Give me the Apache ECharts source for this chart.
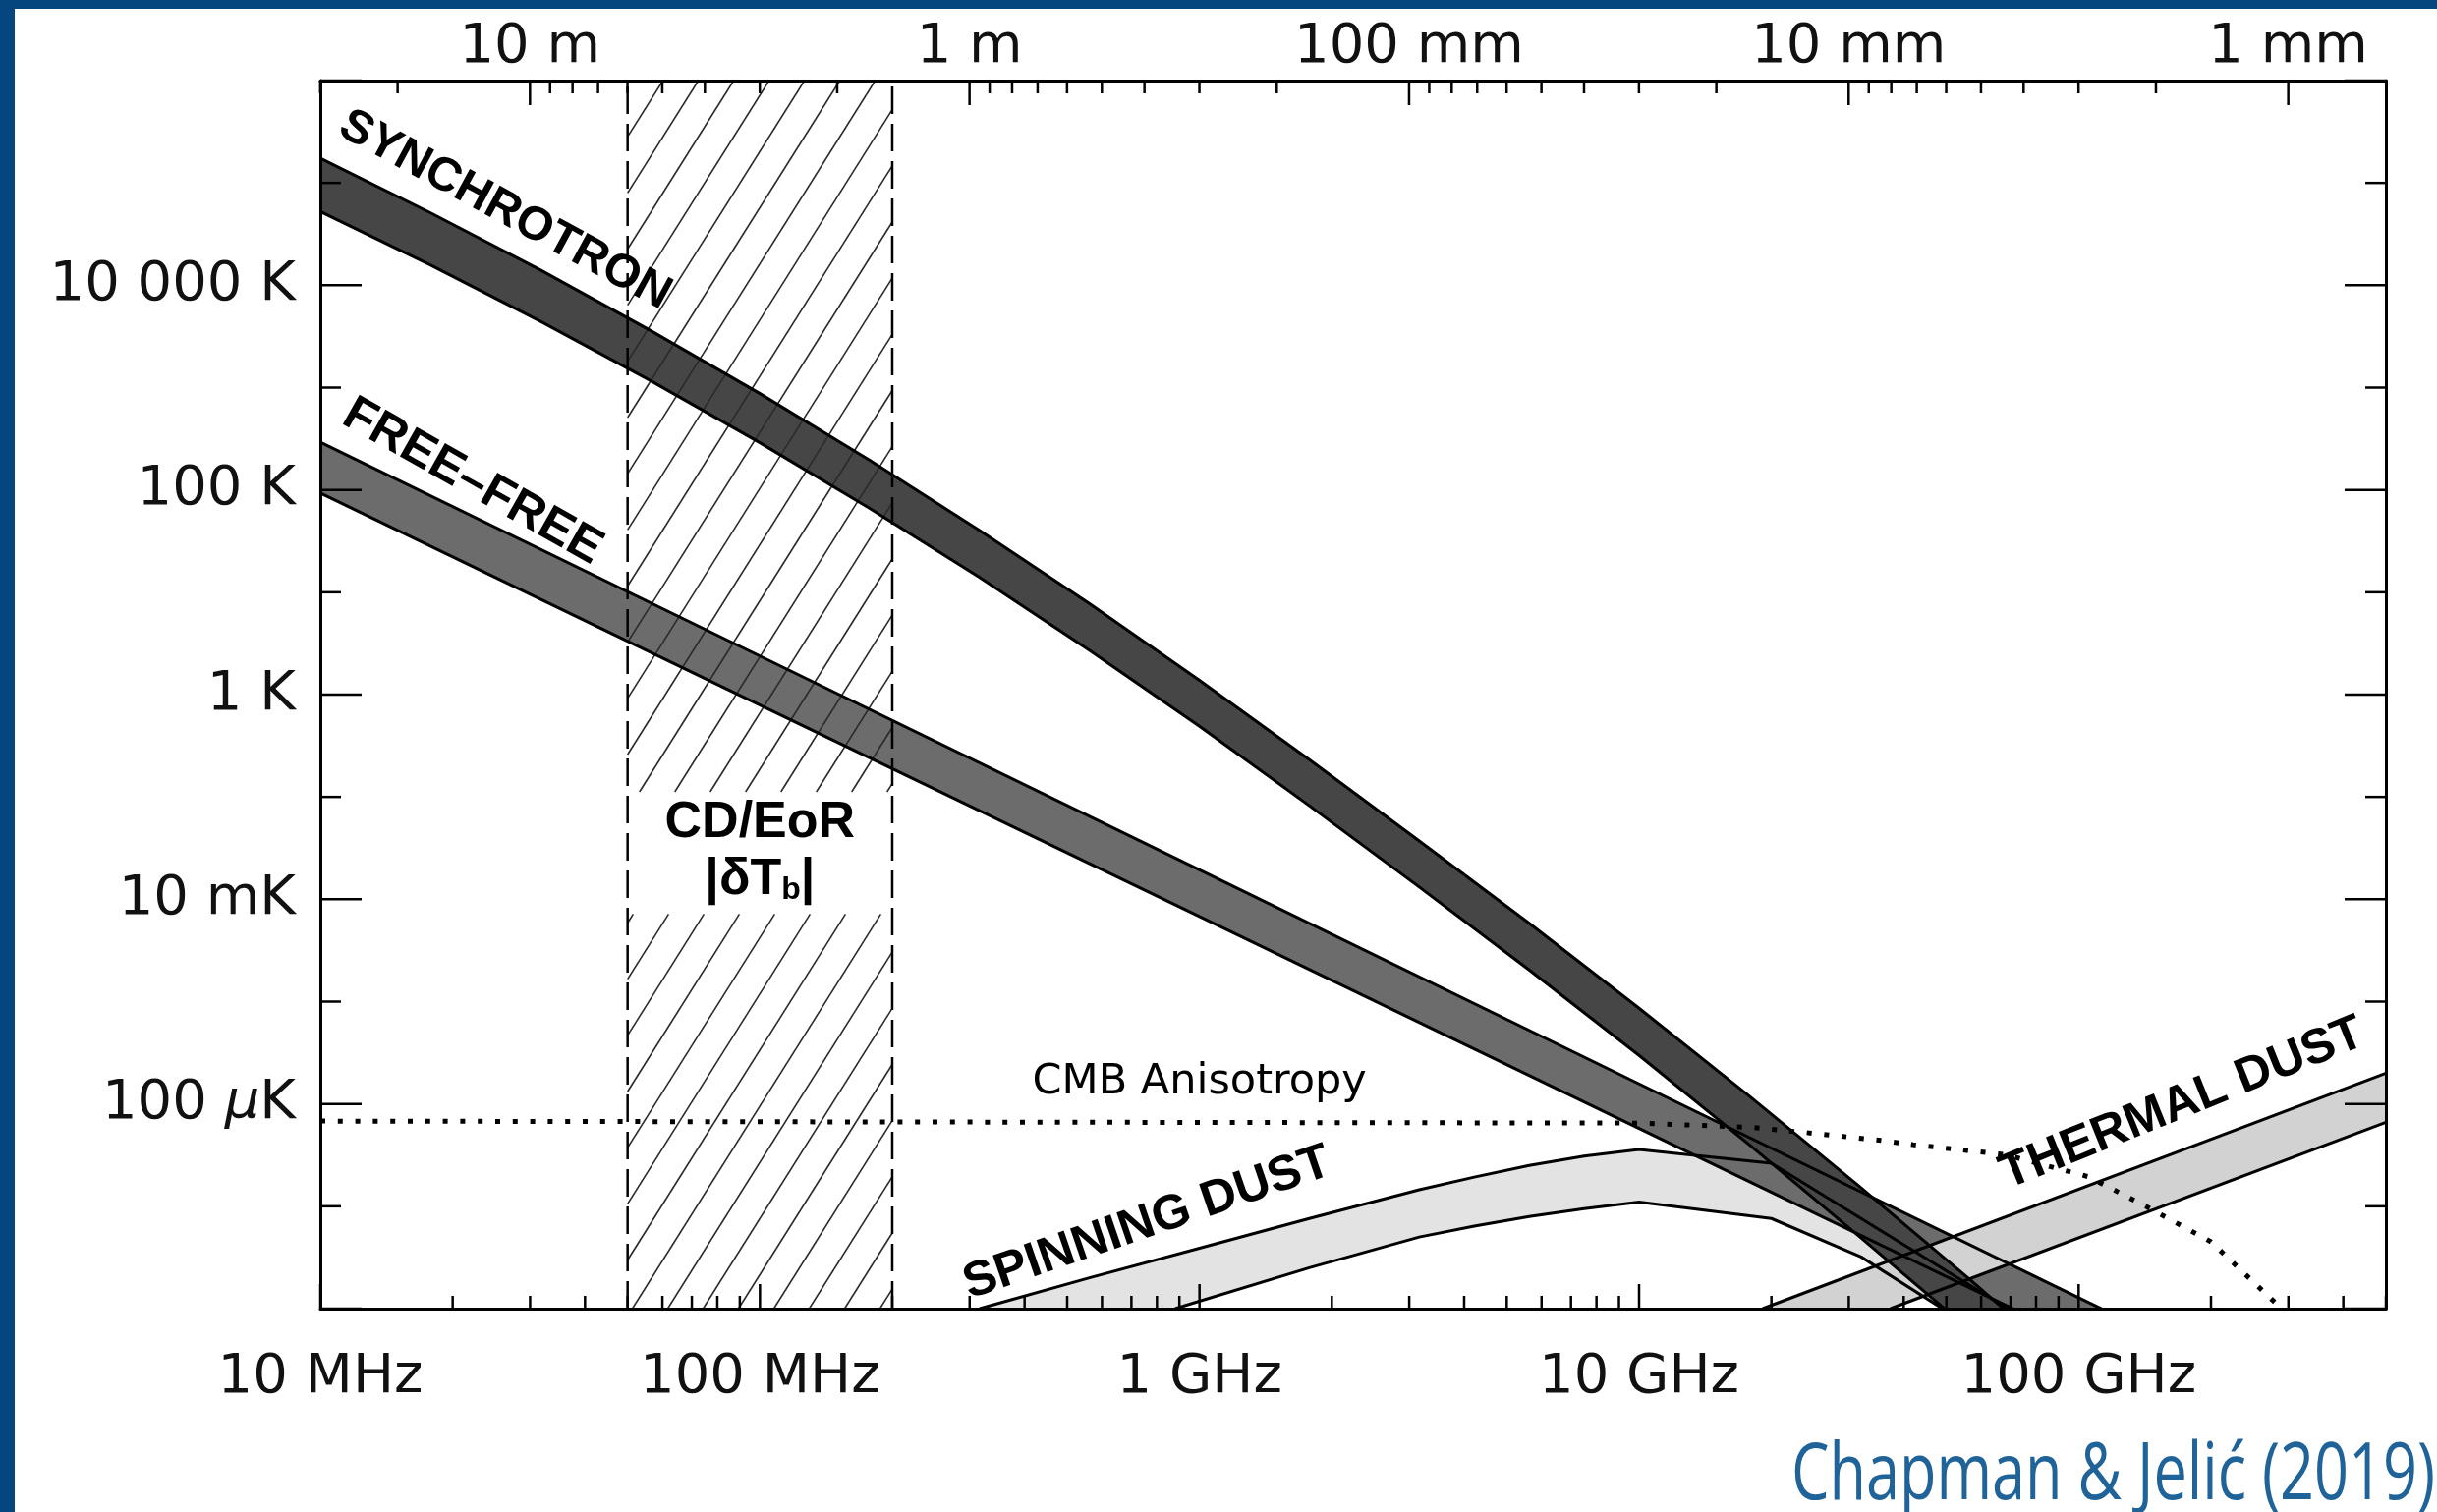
<!DOCTYPE html>
<html>
<head>
<meta charset="utf-8">
<script src="https://cdn.jsdelivr.net/npm/echarts@6/dist/echarts.min.js"></script>
<style>
  html, body { margin: 0; padding: 0; background: #ffffff; }
  #chart { width: 2480px; height: 1539px; }
</style>
</head>
<body>
<div id="chart"></div>
<script>
// Foreground brightness temperatures: frequency in GHz, temperature in K.
const synchFreqGHz = [0.01, 0.01778, 0.03162, 0.05623, 0.1, 0.1778, 0.3162, 0.5623, 1, 1.778, 3.162, 5.623, 10, 17.78, 31.62, 56.23, 100];
const synchUpperK  = [1.738e5, 5.117e4, 1.413e4, 3639, 873, 194.5, 40.18, 7.709, 1.380, 0.2312, 0.03715, 5.821e-3, 8.610e-4, 1.201e-4, 1.582e-5, 1.968e-6, 2.307e-7];
const synchLowerK  = [5.248e4, 1.581e4, 4467, 1178, 289.1, 65.92, 13.93, 2.704, 0.4898, 0.08204, 0.01318, 2.042e-3, 2.985e-4, 4.018e-5, 5.117e-6, 6.295e-7, 7.295e-8];

const ffUpperGHz = [0.01, 0.1, 1, 10, 100, 500];
const ffUpperK   = [293, 2.38, 0.0194, 1.57e-4, 1.28e-6, 4.5e-8];
const ffLowerGHz = [0.01, 0.1, 1, 10, 100];
const ffLowerK   = [93, 0.79, 6.8e-3, 5.75e-5, 4.9e-7];

const spinUpperGHz = [0.316, 0.562, 1, 1.778, 3.162, 4.217, 5.623, 7.499, 10, 12, 20, 35, 69];
const spinUpperK   = [1e-6, 2.0e-6, 3.89e-6, 7.59e-6, 1.45e-5, 1.93e-5, 2.51e-5, 3.09e-5, 3.59e-5, 3.3e-5, 2.63e-5, 6e-6, 1e-6];
const spinLowerGHz = [0.88, 1.778, 3.162, 4.217, 5.623, 7.499, 10, 20, 32, 49];
const spinLowerK   = [1e-6, 2.51e-6, 5.01e-6, 6.4e-6, 7.94e-6, 9.5e-6, 1.1e-5, 7.6e-6, 3.2e-6, 1e-6];

const dustUpperGHz = [19.1, 500];
const dustUpperK   = [1e-6, 2.0e-4];
const dustLowerGHz = [37.3, 500];
const dustLowerK   = [1e-6, 6.6e-5];

const cmbGHz = [0.01, 10, 18, 24, 35.5, 42, 68, 105, 141, 200, 275, 290];
const cmbK   = [6.8e-5, 6.5e-5, 5.9e-5, 5.25e-5, 4.4e-5, 4.0e-5, 3.2e-5, 1.95e-5, 1.02e-5, 4.5e-6, 1.23e-6, 1e-6];

// Cosmic Dawn / Epoch of Reionization window (GHz)
const cdEorGHz = [0.05, 0.2];

// Axis ranges and tick labels
const freqRangeHz = [1e7, 5e11];
const tempRangeK = [1e-6, 1e6];
const freqMajorHz = [1e7, 1e8, 1e9, 1e10, 1e11];
const freqLabels = ['10 MHz', '100 MHz', '1 GHz', '10 GHz', '100 GHz'];
const waveMajorM = [10, 1, 0.1, 0.01, 0.001];
const waveLabels = ['10 m', '1 m', '100 mm', '10 mm', '1 mm'];
const tempLabelK = [1e4, 1e2, 1, 1e-2, 1e-4];
const tempLabels = ['10 000 K', '100 K', '1 K', '10 mK', '100 {mu|µ}K'];

const LIGHT_SPEED = 299792458;
const lg = Math.log10;
const X_MIN = lg(freqRangeHz[0]), X_MAX = lg(freqRangeHz[1]);
const Y_MIN = lg(tempRangeK[0]), Y_MAX = lg(tempRangeK[1]);

const toPts = (ghz, k) => ghz.map((g, i) => [lg(g * 1e9), lg(k[i])]);

// minor ticks: 2..9 times each decade of frequency / wavelength
const freqMinorHz = [];
freqMajorHz.forEach(d => { for (let k = 2; k <= 9; k++) if (d * k <= freqRangeHz[1] * 1.0001) freqMinorHz.push(d * k); });
const waveMinorM = [];
[10, 1, 0.1, 0.01, 0.001].forEach(d => { for (let k = 2; k <= 9; k++) { const l = d * k; if (l <= 30.0001 && LIGHT_SPEED / l <= freqRangeHz[1] * 1.0001) waveMinorM.push(l); } });

const AXIS_FONT = '"DejaVu Sans", "Liberation Sans", sans-serif';
const BOLD_FONT = '"Liberation Sans", Arial, sans-serif';
const INK = '#111111';

// tick marks: [value, side (0 bottom, 1 top, 2 left, 3 right), major flag]
const tickData = [];
freqMajorHz.forEach(f => tickData.push([lg(f), 0, 1]));
freqMinorHz.forEach(f => tickData.push([lg(f), 0, 0]));
waveMajorM.forEach(l => tickData.push([lg(LIGHT_SPEED / l), 1, 1]));
waveMinorM.forEach(l => tickData.push([lg(LIGHT_SPEED / l), 1, 0]));
for (let e = -6; e <= 6; e++) {
  const major = (e % 2 === 0) ? 1 : 0;
  tickData.push([e, 2, major]);
  tickData.push([e, 3, major]);
}

const annotations = [
  { text: 'SYNCHROTRON', ghz: 0.0263, k: 5.4e4, angle: -28.5, size: 48 },
  { text: 'FREE–FREE', ghz: 0.0222, k: 120, angle: -29.5, size: 50 },
  { text: 'SPINNING DUST', ghz: 0.76, k: 6.8e-6, angle: 19, size: 50 },
  { text: 'THERMAL DUST', ghz: 172, k: 1.0e-4, angle: 22, size: 50 },
  { text: 'CD/EoR', ghz: 0.1, k: 0.0553, angle: 0, size: 52 },
  { text: '|δT{sub|b}|', ghz: 0.1, k: 0.0154, angle: 0, size: 52 },
  { text: 'CMB Anisotropy', ghz: 1.0, k: 1.62e-4, angle: 0, size: 43, normal: true }
];
// vertical gap left in the hatching behind the CD/EoR caption (K)
const captionGapK = [0.112, 0.00716];

function bandFill(upper, lower, color, z) {
  return {
    type: 'custom', coordinateSystem: 'cartesian2d', clip: true, silent: true, z,
    data: [upper[0]],
    renderItem(params, api) {
      const pts = upper.map(p => api.coord(p)).concat(lower.slice().reverse().map(p => api.coord(p)));
      return { type: 'polygon', shape: { points: pts }, style: { fill: color, stroke: null } };
    }
  };
}

function edge(points, z) {
  return {
    type: 'line', data: points, symbol: 'none', showSymbol: false, clip: true, silent: true, z,
    lineStyle: { color: '#000', width: 3, join: 'round' }
  };
}

const synchU = toPts(synchFreqGHz, synchUpperK), synchL = toPts(synchFreqGHz, synchLowerK);
const ffU = toPts(ffUpperGHz, ffUpperK), ffL = toPts(ffLowerGHz, ffLowerK);
const spinU = toPts(spinUpperGHz, spinUpperK), spinL = toPts(spinLowerGHz, spinLowerK);
const dustU = toPts(dustUpperGHz, dustUpperK), dustL = toPts(dustLowerGHz, dustLowerK);
const cmb = toPts(cmbGHz, cmbK);
const eorX = cdEorGHz.map(g => lg(g * 1e9));

const HATCH_ANGLE = 57.8 * Math.PI / 180;
const HATCH_STEP = 36;

const hatch = {
  type: 'custom', coordinateSystem: 'cartesian2d', clip: true, silent: true, z: 3,
  data: [[eorX[0], Y_MAX]],
  renderItem(params, api) {
    const tl = api.coord([eorX[0], Y_MAX]);
    const br = api.coord([eorX[1], Y_MIN]);
    const xL = tl[0], yT = tl[1], xR = br[0], yB = br[1];
    const gTop = api.coord([eorX[0], lg(captionGapK[0])])[1];
    const gBot = api.coord([eorX[0], lg(captionGapK[1])])[1];
    const spans = [[yT, gTop], [gBot, yB]];
    const t = Math.tan(HATCH_ANGLE);
    const children = [];
    for (let b = xL - (yB - yT) / t; b <= xR; b += HATCH_STEP) {
      const yA = yB - (xR - b) * t, yC = yB - (xL - b) * t;
      spans.forEach(([s0, s1]) => {
        const lo = Math.max(s0, yA), hi = Math.min(s1, yC);
        if (hi > lo) {
          children.push({
            type: 'line',
            shape: { x1: b + (yB - hi) / t, y1: hi, x2: b + (yB - lo) / t, y2: lo },
            style: { stroke: '#2a2a2a', lineWidth: 1.6 }
          });
        }
      });
    }
    return { type: 'group', children };
  }
};

const TICK_LEN = { x: [13, 25], y: [21, 42] };
const ticks = {
  type: 'custom', coordinateSystem: 'cartesian2d', clip: false, silent: true, z: 9,
  data: tickData,
  renderItem(params, api) {
    const v = api.value(0), side = api.value(1), major = api.value(2);
    let p, x2, y2;
    if (side === 0) { p = api.coord([v, Y_MIN]); x2 = p[0]; y2 = p[1] - TICK_LEN.x[major]; }
    else if (side === 1) { p = api.coord([v, Y_MAX]); x2 = p[0]; y2 = p[1] + TICK_LEN.x[major]; }
    else if (side === 2) { p = api.coord([X_MIN, v]); x2 = p[0] + TICK_LEN.y[major]; y2 = p[1]; }
    else { p = api.coord([X_MAX, v]); x2 = p[0] - TICK_LEN.y[major]; y2 = p[1]; }
    return { type: 'line', shape: { x1: p[0], y1: p[1], x2, y2 }, style: { stroke: '#000', lineWidth: 2.5 } };
  }
};

const labels = {
  type: 'custom', coordinateSystem: 'cartesian2d', clip: false, silent: true, z: 8,
  data: annotations.map((a, i) => [lg(a.ghz * 1e9), lg(a.k), i]),
  renderItem(params, api) {
    const a = annotations[api.value(2)];
    const p = api.coord([api.value(0), api.value(1)]);
    return {
      type: 'text', x: p[0], y: p[1], rotation: a.angle * Math.PI / 180,
      style: {
        text: a.text, fill: '#000',
        fontSize: a.size, fontWeight: a.normal ? 'normal' : 'bold',
        fontFamily: a.normal ? AXIS_FONT : BOLD_FONT,
        align: 'center', verticalAlign: 'middle',
        rich: {
          sub: { fontSize: 32, fontWeight: 'bold', fontFamily: BOLD_FONT, fill: '#000', lineHeight: 40, verticalAlign: 'bottom' }
        }
      }
    };
  }
};

const chart = echarts.init(document.getElementById('chart'), null, { renderer: 'canvas' });

const matchLabel = (positions, texts) => v => {
  for (let i = 0; i < positions.length; i++) if (Math.abs(positions[i] - v) < 1e-6) return texts[i];
  return '';
};

const axisLabelBase = { color: INK, fontSize: 56, fontFamily: AXIS_FONT, hideOverlap: false };
const axisLineBase = { show: true, onZero: false, lineStyle: { color: '#000', width: 3 } };

chart.setOption({
  animation: false,
  backgroundColor: '#ffffff',
  grid: { left: 326, top: 82, width: 2102, height: 1250, containLabel: false },
  xAxis: [
    {
      type: 'value', position: 'bottom', min: X_MIN, max: X_MAX, interval: 1, z: 10,
      axisLine: axisLineBase, axisTick: { show: false }, splitLine: { show: false },
      axisLabel: Object.assign({}, axisLabelBase, {
        margin: 42, showMinLabel: true, showMaxLabel: true,
        formatter: matchLabel(freqMajorHz.map(lg), freqLabels)
      })
    },
    {
      type: 'value', position: 'top', min: X_MIN, max: X_MAX, interval: 1, z: 10,
      axisLine: axisLineBase, axisTick: { show: false }, splitLine: { show: false },
      axisLabel: Object.assign({}, axisLabelBase, {
        margin: 6,
        customValues: waveMajorM.map(l => lg(LIGHT_SPEED / l)),
        formatter: matchLabel(waveMajorM.map(l => lg(LIGHT_SPEED / l)), waveLabels)
      })
    }
  ],
  yAxis: [
    {
      type: 'value', position: 'left', min: Y_MIN, max: Y_MAX, interval: 1, z: 10,
      axisLine: axisLineBase, axisTick: { show: false }, splitLine: { show: false },
      axisLabel: Object.assign({}, axisLabelBase, {
        margin: 25,
        formatter: matchLabel(tempLabelK.map(lg), tempLabels),
        rich: { mu: { fontStyle: 'italic', fontSize: 56, fontFamily: AXIS_FONT, color: INK } }
      })
    },
    {
      type: 'value', position: 'right', min: Y_MIN, max: Y_MAX, interval: 1, z: 10,
      axisLine: axisLineBase, axisTick: { show: false }, splitLine: { show: false },
      axisLabel: { show: false }
    }
  ],
  series: [
    bandFill(spinU, spinL, '#e3e3e3', 1),
    bandFill(ffU, ffL, '#6c6c6c', 1),
    bandFill(dustU, dustL, '#d2d2d2', 1),
    bandFill(synchU, synchL, '#464646', 1),
    hatch,
    edge(spinU, 4), edge(spinL, 4),
    edge(ffU, 4), edge(ffL, 4),
    edge(dustU, 4), edge(dustL, 4),
    edge(synchU, 4), edge(synchL, 4),
    {
      type: 'line', data: cmb, symbol: 'none', clip: true, silent: true, z: 5,
      lineStyle: { color: '#000', width: 5, type: [5, 12.8], cap: 'butt' }
    },
    {
      type: 'line', data: [[eorX[0], Y_MIN], [eorX[0], Y_MAX]], symbol: 'none', clip: true, silent: true, z: 5,
      lineStyle: { color: '#000', width: 2.5, type: [28, 10] }
    },
    {
      type: 'line', data: [[eorX[1], Y_MIN], [eorX[1], Y_MAX]], symbol: 'none', clip: true, silent: true, z: 5,
      lineStyle: { color: '#000', width: 2.5, type: [28, 10] }
    },
    ticks,
    labels
  ],
  graphic: [
    { type: 'rect', left: 0, top: 0, shape: { width: 15, height: 1539 }, style: { fill: '#04467d' }, z: 100 },
    { type: 'rect', left: 0, top: 0, shape: { width: 2480, height: 9 }, style: { fill: '#04467d' }, z: 100 },
    {
      type: 'text', x: 2478, y: 1503, scaleX: 0.765, z: 100,
      style: {
        text: 'Chapman & Jelić (2019)', fill: '#1f6398',
        fontSize: 80, fontFamily: '"Open Sans", "Noto Sans", sans-serif',
        align: 'right', verticalAlign: 'middle'
      }
    }
  ]
});
</script>
</body>
</html>
